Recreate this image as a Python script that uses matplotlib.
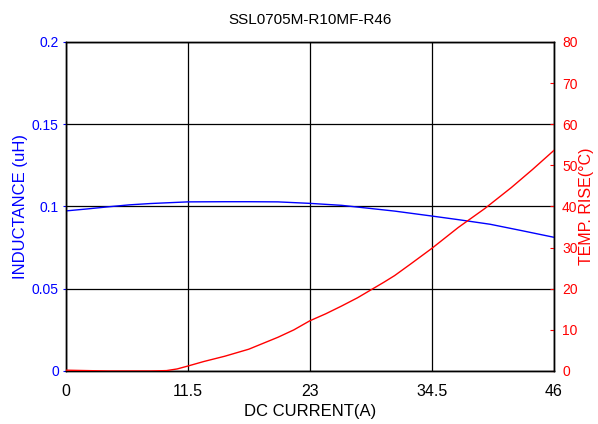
import numpy as np
import matplotlib
matplotlib.use("Agg")
import matplotlib.pyplot as plt

plt.rcParams['font.family'] = ['Liberation Sans', 'DejaVu Sans']

# DC current (A) sample points
current = [0, 2, 4, 6, 8, 11.5, 15, 17.25, 20, 23, 26, 28, 31, 34.5, 37, 40, 43, 46]
inductance = [0.0973, 0.0985, 0.0998, 0.1010, 0.1018, 0.1028, 0.1029, 0.1029, 0.1028, 0.1019,
              0.1007, 0.0993, 0.0972, 0.0942, 0.0920, 0.0892, 0.0853, 0.0813]

temp_current = [0, 4, 8, 9.5, 10.5, 11.5, 13, 15, 17.25, 20, 21.5, 23, 24.5, 26, 27.5,
                28.75, 30, 31, 32.5, 34.5, 37, 39.5, 42, 44, 46]
temp_rise = [0.2, 0.0, 0.0, 0.1, 0.5, 1.2, 2.3, 3.6, 5.3, 8.2, 10.0, 12.2, 13.9, 15.8, 17.8,
             19.7, 21.6, 23.2, 26.0, 29.8, 34.9, 39.5, 44.6, 49.0, 53.6]

x_ticks = [0, 11.5, 23, 34.5, 46]
l_ticks = [0, 0.05, 0.1, 0.15, 0.2]
l_labels = ['0', '0.05', '0.1', '0.15', '0.2']
r_ticks = [0, 10, 20, 30, 40, 50, 60, 70, 80]

fig = plt.figure(figsize=(5.98, 4.24), dpi=100)
ax = fig.add_axes([0.110, 0.125, 0.816, 0.776])
ax2 = ax.twinx()

ax.plot(current, inductance, color='#0000ff', lw=1.0, zorder=3)
ax2.plot(temp_current, temp_rise, color='#ff0000', lw=1.0, zorder=3)

ax.set_xlim(0, 46)
ax.set_ylim(0, 0.2)
ax2.set_ylim(0, 80)

ax.set_xticks(x_ticks)
ax.set_xticklabels(['0', '11.5', '23', '34.5', '46'], fontsize=11.5)
ax.set_yticks(l_ticks)
ax.set_yticklabels(l_labels, fontsize=10, color='#0000ff')
ax2.set_yticks(r_ticks)
ax2.set_yticklabels([str(v) for v in r_ticks], fontsize=10, color='#ff0000')

ax.tick_params(axis='x', length=0, pad=9)
ax.tick_params(axis='y', length=2, color='#0000ff', pad=3)
ax2.tick_params(axis='y', length=3, direction='in', color='#ff0000', pad=6)

ax.grid(True, color='black', lw=0.9)
ax.set_axisbelow(True)

for a in (ax, ax2):
    for s in a.spines.values():
        s.set_color('black')
        s.set_linewidth(1.0)

ax.set_xlabel('DC CURRENT(A)', fontsize=12, labelpad=4)
ax.set_ylabel('INDUCTANCE (uH)', fontsize=12, color='#0000ff', labelpad=3)
ax2.set_ylabel('TEMP. RISE(°C)', fontsize=11.5, color='#ff0000', labelpad=1)
ax.set_title('SSL0705M-R10MF-R46', fontsize=11, pad=13)

fig.savefig('out.png', dpi=100)
